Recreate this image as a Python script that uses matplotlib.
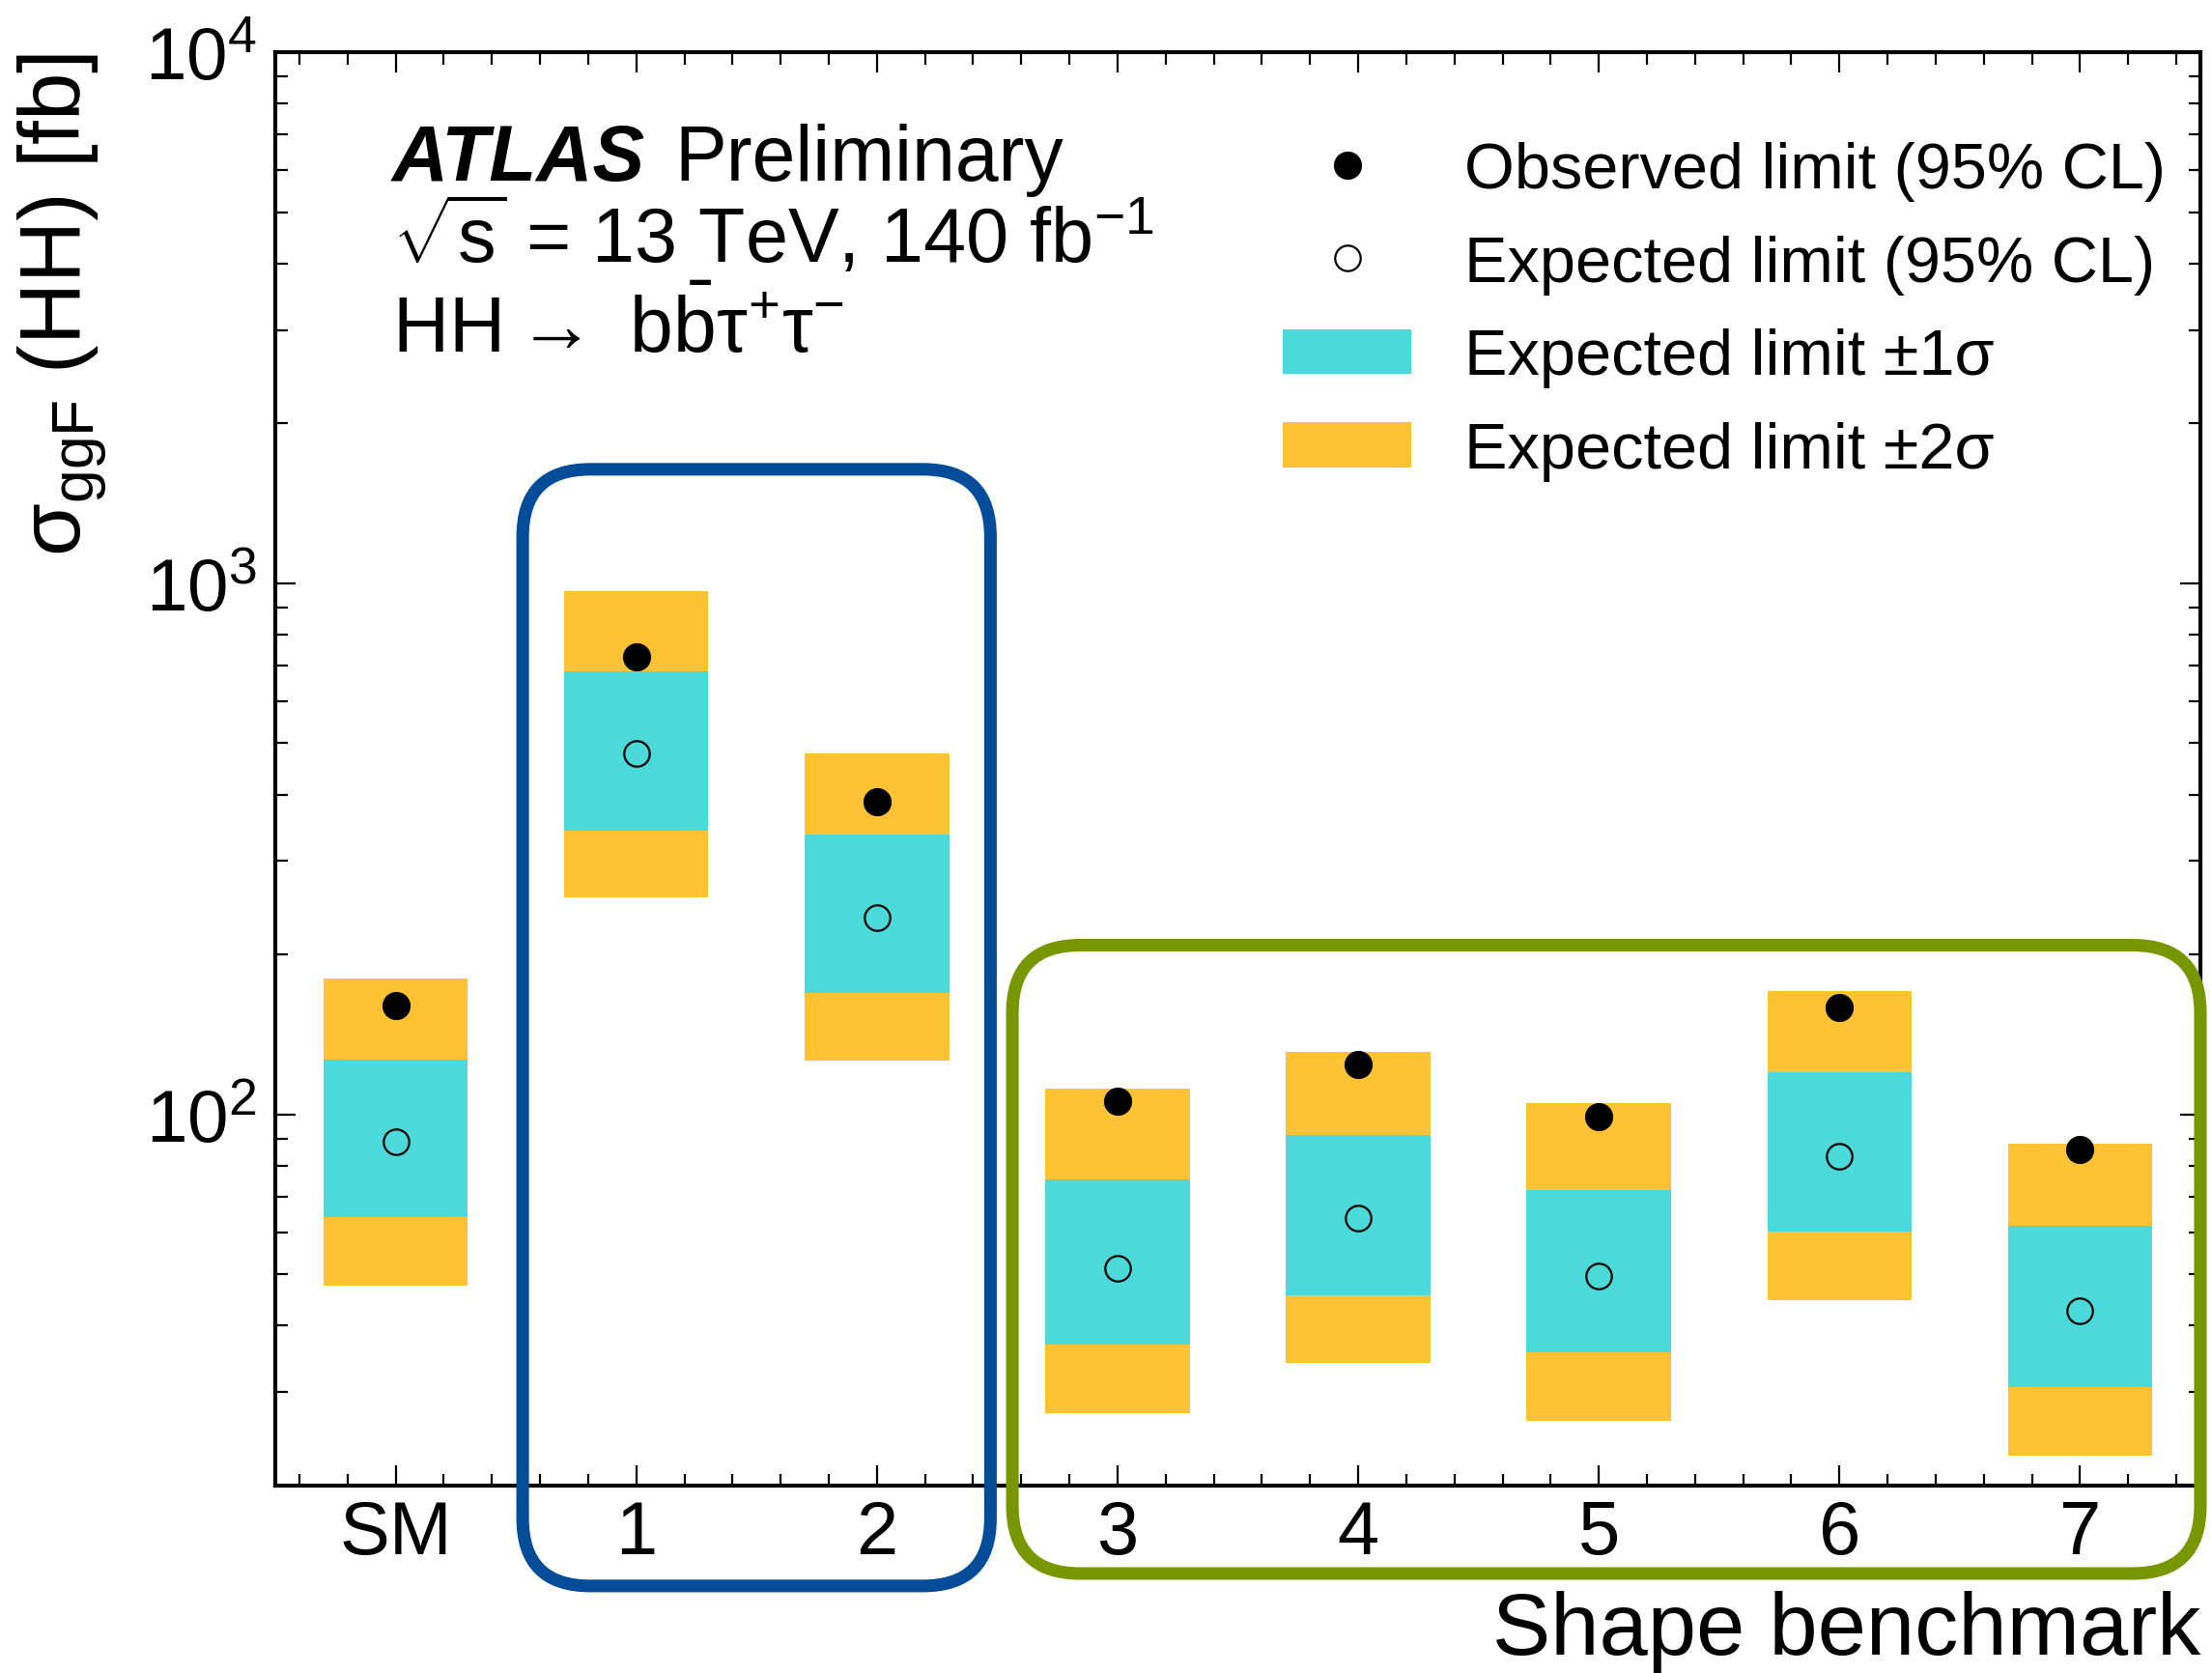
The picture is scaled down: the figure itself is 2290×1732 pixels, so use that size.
import matplotlib
matplotlib.use('Agg')
import matplotlib.pyplot as plt
from matplotlib.patches import Patch, FancyBboxPatch
from matplotlib.lines import Line2D
from matplotlib.ticker import FixedLocator, MultipleLocator, LogLocator, NullFormatter
from matplotlib.transforms import blended_transform_factory, IdentityTransform

plt.rcParams['font.family'] = ['Liberation Sans', 'DejaVu Sans']
plt.rcParams['mathtext.fontset'] = 'custom'
plt.rcParams['mathtext.rm'] = 'Liberation Sans'
plt.rcParams['mathtext.it'] = 'Liberation Sans:italic'
plt.rcParams['mathtext.bf'] = 'Liberation Sans:bold'
plt.rcParams['mathtext.sf'] = 'Liberation Sans'
plt.rcParams['mathtext.default'] = 'regular'

# limits on sigma_ggF(HH) in fb, per shape benchmark
labels = ['SM', '1', '2', '3', '4', '5', '6', '7']
observed = [160, 728, 388, 106, 124, 99, 159, 86]
expected = [89, 478, 235, 51.3, 63.7, 49.6, 83.5, 42.7]
minus2 = [47.6, 256, 126, 27.4, 34.1, 26.5, 44.6, 22.8]
minus1 = [64.0, 342, 169, 36.9, 45.7, 35.7, 60.1, 30.7]
plus1 = [127, 682, 337, 75.4, 91.4, 71.9, 120, 61.6]
plus2 = [180, 965, 479, 112, 131, 105, 171, 88.0]

c1 = '#4bd9d9'
c2 = '#fdc334'
blue = '#024c9a'
green = '#789600'

fig = plt.figure(figsize=(22.9, 17.33), dpi=100)
ax = fig.add_axes([0.12445, 0.11194, 0.8703, 0.85632])
ax.set_yscale('log')
x = list(range(len(labels)))

ax.bar(x, [u - d for u, d in zip(plus2, minus2)], bottom=minus2, width=0.6, color=c2, lw=0)
ax.bar(x, [u - d for u, d in zip(plus1, minus1)], bottom=minus1, width=0.6, color=c1, lw=0)
ax.plot(x, observed, 'o', color='k', ms=20, ls='none')
ax.plot(x, expected, 'o', mfc='none', mec='k', mew=1.6, ms=19, ls='none')

ax.set_xlim(-0.5, 7.5)
ax.set_ylim(20, 1e4)
ax.xaxis.set_major_locator(FixedLocator(x))
ax.set_xticklabels(labels)
ax.xaxis.set_minor_locator(MultipleLocator(0.2))
ax.yaxis.set_major_locator(LogLocator(base=10))
ax.yaxis.set_minor_locator(LogLocator(base=10, subs=range(2, 10)))
ax.yaxis.set_minor_formatter(NullFormatter())

for s in ax.spines.values():
    s.set_linewidth(3)
ax.tick_params(which='both', direction='in', top=True, right=True, width=1.6)
ax.tick_params(which='major', length=15)
ax.tick_params(which='minor', length=9)
ax.tick_params(axis='x', which='major', labelsize=56, pad=9)
ax.tick_params(axis='y', which='major', labelsize=55, pad=14)

ax.set_xlabel('Shape benchmark', fontsize=65, loc='right')
ax.xaxis.set_label_coords(1.0, -0.073)
ax.set_ylabel('σ$_{ggF}$ (HH) [fb]', fontsize=64, loc='top')
ax.yaxis.set_label_coords(-0.087, 1.0)

# ATLAS label block
ax.text(0.0607, 0.911, 'ATLAS', transform=ax.transAxes, fontsize=58,
        fontweight='bold', fontstyle='italic', va='baseline')
ax.text(0.2072, 0.911, 'Preliminary', transform=ax.transAxes, fontsize=58, va='baseline')
ax.text(0.0607, 0.854, r'$\sqrt{s}$ = 13 TeV, 140 fb$^{-1}$', transform=ax.transAxes,
        fontsize=57, va='baseline')
ax.text(0.0607, 0.791, r'HH$\rightarrow$ b$\bar{b}$τ$^{+}$τ$^{-}$', transform=ax.transAxes,
        fontsize=58, va='baseline')

handles = [
    Line2D([], [], marker='o', color='k', ls='none', ms=20),
    Line2D([], [], marker='o', mfc='white', mec='k', mew=1.6, ls='none', ms=19),
    Patch(facecolor=c1, edgecolor='none'),
    Patch(facecolor=c2, edgecolor='none'),
]
names = ['Observed limit (95% CL)', 'Expected limit (95% CL)',
         'Expected limit ±1σ', 'Expected limit ±2σ']
ax.legend(handles, names, loc='upper left', bbox_to_anchor=(0.5233, 0.938), frameon=False,
          fontsize=48, borderpad=0, borderaxespad=0, handlelength=2.0, handleheight=0.7,
          handletextpad=0.82, labelspacing=0.52)

# rounded frames grouping the benchmarks
trans = blended_transform_factory(ax.transData, ax.transAxes)
def frame(x0, x1, y0, y1, color):
    px0, py0 = trans.transform((x0, y0))
    px1, py1 = trans.transform((x1, y1))
    box = FancyBboxPatch((px0, py0), px1 - px0, py1 - py0,
                         boxstyle='round,pad=0,rounding_size=70',
                         transform=IdentityTransform(), fill=False,
                         edgecolor=color, lw=9.4, zorder=10)
    fig.add_artist(box)

frame(0.528, 2.472, -0.070, 0.709, blue)
frame(2.563, 7.50, -0.0613, 0.377, green)

fig.savefig('out.png', dpi=100)
